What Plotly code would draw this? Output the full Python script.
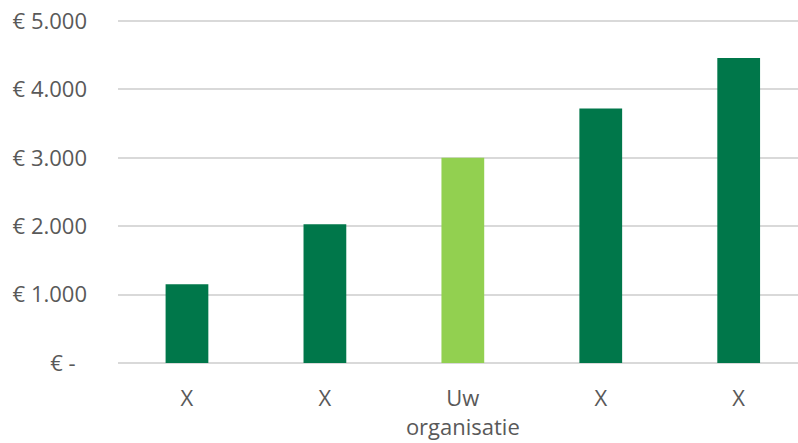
import plotly.graph_objects as go

categories = ["X", "X", "Uw<br>organisatie", "X", "X"]
values = [1150, 2030, 3000, 3720, 4460]
bar_colors = ["#00774A", "#00774A", "#92D050", "#00774A", "#00774A"]
y_ticks = [0, 1000, 2000, 3000, 4000, 5000]
y_tick_labels = ["€ -\u00a0\u00a0", "€ 1.000", "€ 2.000", "€ 3.000", "€ 4.000", "€ 5.000"]

positions = list(range(len(categories)))

fig = go.Figure(
    go.Bar(
        x=positions,
        y=values,
        marker={"color": bar_colors, "line": {"width": 0}},
        width=0.31,
    )
)

fig.update_layout(
    width=798,
    height=443,
    margin={"t": 19, "r": 0, "b": 80, "l": 118, "autoexpand": False},
    paper_bgcolor="white",
    plot_bgcolor="white",
    showlegend=False,
    font={"family": "Open Sans, sans-serif", "size": 22, "color": "#595959"},
)
fig.update_xaxes(
    tickvals=positions,
    ticktext=categories,
    range=[-0.5, 4.43],
    showgrid=False,
    showline=False,
    zeroline=False,
    ticks="",
    automargin=False,
    ticklabelstandoff=20,
)
fig.update_yaxes(
    range=[0, 5030],
    tickvals=y_ticks,
    ticktext=y_tick_labels,
    showgrid=True,
    gridcolor="#D9D9D9",
    gridwidth=1.5,
    zeroline=True,
    zerolinecolor="#D9D9D9",
    zerolinewidth=2,
    showline=False,
    ticks="",
    automargin=False,
    ticklabelstandoff=30,
)

# the page body has a default 8px margin; drop it so the chart fills the window
fig.write_html(
    "out.html",
    config={"displayModeBar": False},
    post_script="document.body.style.margin='0';",
)
